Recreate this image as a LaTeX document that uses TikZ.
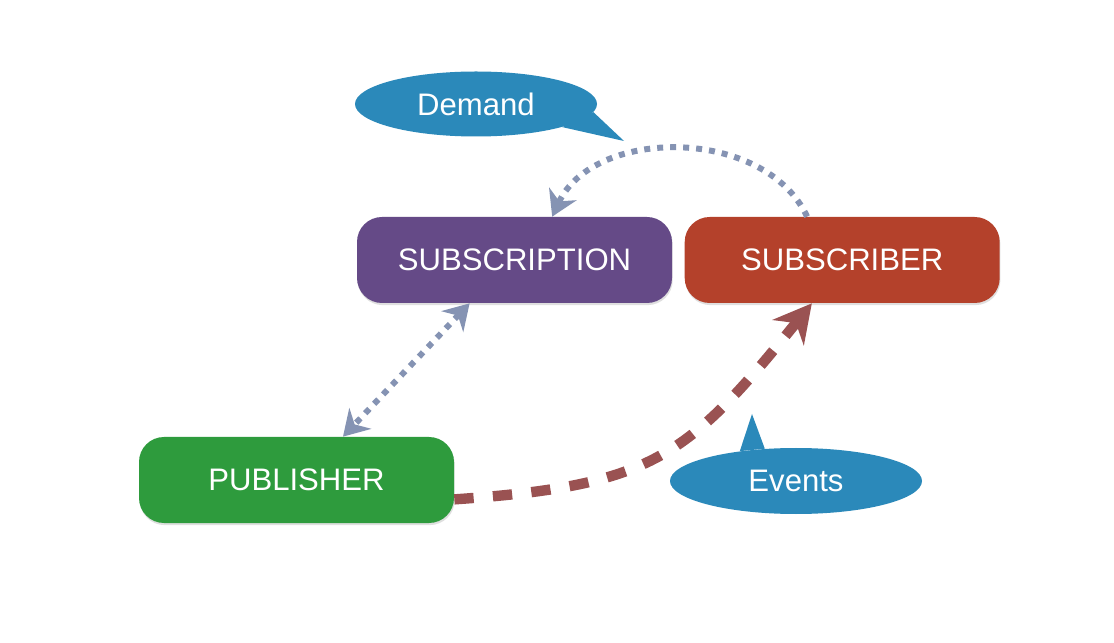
\documentclass[tikz,border=0pt]{standalone}
\usepackage{fontspec}
\setmainfont{Liberation Sans}
\usepackage{tikz}
\usetikzlibrary{shapes.geometric, arrows.meta, positioning, shadows}
\definecolor{subpurple}{HTML}{654A87}
\definecolor{subred}{HTML}{B4412B}
\definecolor{pubgreen}{HTML}{2E9B3D}
\definecolor{bubbleblue}{HTML}{2B89BA}
\definecolor{demandgrey}{HTML}{8593B3}
\definecolor{eventbrown}{HTML}{9A5252}
\tikzstyle{box} = [rectangle, rounded corners=0.5cm, minimum width=6.3cm, minimum height=1.72cm, text=white, font=\fontsize{17.7}{20}\selectfont, drop shadow={opacity=0.25, shadow xshift=0.4pt, shadow yshift=-1.2pt}]
\tikzstyle{bubble} = [ellipse, fill=bubbleblue, text=white, inner sep=0pt, font=\fontsize{17.7}{20}\selectfont]

\begin{document}
\begin{tikzpicture}[
        node distance=0.24cm,
        demandline/.style={demandgrey, line width=3.4pt, dash pattern=on 3.4pt off 4pt},
        eventline/.style={eventbrown, line width=5.9pt, dash pattern=on 11pt off 11pt},
        demandtip/.style={-{Stealth[length=0.5cm, width=0.6cm]}},
        eventtip/.style={-{Stealth[length=0.75cm, width=0.8cm]}}
        ]

        \useasboundingbox[fill=white] (0,0) rectangle (22.28,12.84);

        \node[box, fill=subpurple] (subscription) at (10.29,7.64) {SUBSCRIPTION};
        \node[box, fill=subred, right=of subscription] (subscriber) {SUBSCRIBER};
        \node[box, fill=pubgreen] (publisher) at (5.93,3.24) {PUBLISHER};

        \node[bubble, minimum width=4.84cm, minimum height=1.3cm] (demand) at (9.52,10.76) {Demand};
        \coordinate (demand_tip) at (12.48,10.02);
        \fill[bubbleblue] (demand.-4) -- (demand_tip) -- (demand.-15) -- cycle;

        \node[bubble, minimum width=5.04cm, minimum height=1.32cm] (events) at (15.92,3.22) {Events};
        \coordinate (events_tip) at (15.04,4.56);
        \fill[bubbleblue] (events.152) -- (events_tip) -- (events.134) -- cycle;

        \draw[demandline, demandtip] (subscriber.129) to[out=115, in=65] (subscription.49);
        \draw[demandline, {Stealth[length=0.5cm, width=0.6cm]}-{Stealth[length=0.5cm, width=0.6cm]}] (subscription.224) -- (publisher.43);
        \draw[eventline, eventtip] (publisher.-7) to[out=4, in=231, looseness=1.25] (subscriber.235);

    \end{tikzpicture}
\end{document}
